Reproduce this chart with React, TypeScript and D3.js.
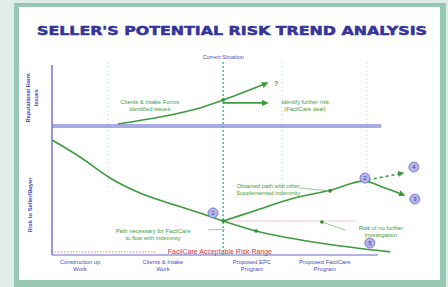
import React, { useEffect, useRef } from 'react'
import * as d3 from 'd3'

type Pt = [number, number]

const title = "SELLER'S POTENTIAL RISK TREND ANALYSIS"
const currentLabel = 'Current Situation'
const categoryLines: string[][] = [
  ['Construction up', 'Work'],
  ['Clients & Intake', 'Work'],
  ['Proposed EPC', 'Program'],
  ['Proposed FacilCare', 'Program'],
]
const categoryX = [8.6, 34, 61.3, 83.7]
const yLabelTop = ['Reputational Harm', 'Issues']
const yLabelBottom = 'Risk to Seller/Buyer'
const acceptableLabel = 'FacilCare Acceptable Risk Range'

const currentX = 52.5
const thresholdY = 66.8
const gridX = [17.2, 70.6, 96.6]

// risk trend paths (x: program progress, y: risk level)
const baseCurve: Pt[] = [[0, 59.6], [8.6, 50.8], [17.8, 39.9], [27, 32.1], [37.7, 25.9], [45.4, 21.8], [52.5, 17.6]]
const riseCurve: Pt[] = [[52.5, 17.6], [62.9, 23.3], [73.3, 29], [85.6, 33.7], [95.7, 38.3], [102.1, 34.7], [108, 31.1]]
const lowCurve: Pt[] = [[52.5, 17.6], [62.6, 12.4], [82.2, 6.2], [103.7, 1.6]]
const dashedCurve: Pt[] = [[96.9, 38.9], [107.7, 42.5]]
const upperCurve: Pt[] = [[20.2, 67.9], [33.1, 71.5], [45.4, 76.2], [52.5, 80.3], [66, 89.1]]
const sideArrow: Pt[] = [[52.5, 78.8], [66, 78.8]]
const dotPoints: Pt[] = [[52.5, 80.3], [85.3, 33.2], [62.6, 12.4], [82.8, 17.1], [52.5, 17.6]]
const leaders: Pt[][] = [
  [[76, 34.7], [85.3, 33.2]],
  [[47.9, 13], [53, 13.4]],
  [[82.8, 17.1], [89.9, 13]],
]
const stageCircles: Array<[number, number, string]> = [
  [49.4, 21.8, '1'],
  [96, 39.9, '2'],
  [111.3, 29, '3'],
  [111, 45.6, '4'],
  [97.5, 6.2, '5'],
]
const notes: Array<{ lines: string[]; x: number; y: number }> = [
  { lines: ['Clients & Intake Forms', 'identified issues'], x: 30, y: 79.3 },
  { lines: ['Identify further risk', '(FacilCare deal)'], x: 77.6, y: 79.3 },
  { lines: ['Obtained path with other', 'Supplemented indemnity'], x: 66.3, y: 35.8 },
  { lines: ['Path necessary for FacilCare', 'to flow with indemnity'], x: 31, y: 12.4 },
  { lines: ['Risk of no further', 'investigation'], x: 100.9, y: 14 },
]

const W = 448
const H = 287
const GREEN = '#3d9b3d'
const BLUE = '#4b4bb4'

const App: React.FC = () => {
  const svgRef = useRef<SVGSVGElement>(null)

  useEffect(() => {
    const svg = d3.select(svgRef.current)
    svg.selectAll('*').remove()

    const x = d3.scaleLinear().domain([0, 100]).range([52, 378])
    const y = d3.scaleLinear().domain([0, 100]).range([255, 62])

    const defs = svg.append('defs')
    defs
      .append('marker')
      .attr('id', 'arr')
      .attr('viewBox', '0 0 10 10')
      .attr('refX', 8)
      .attr('refY', 5)
      .attr('markerWidth', 4)
      .attr('markerHeight', 4)
      .attr('orient', 'auto')
      .append('path')
      .attr('d', 'M0,0L10,5L0,10z')
      .attr('fill', GREEN)

    // frame
    svg.append('rect').attr('width', W).attr('height', H).attr('fill', '#deede7')
    svg.append('rect').attr('x', 14).attr('y', 3).attr('width', 432).attr('height', 290).attr('fill', '#97c8b3')
    svg.append('rect').attr('x', 19).attr('y', 7).attr('width', 421).attr('height', 273).attr('fill', '#ffffff')

    svg
      .append('text')
      .attr('x', 232)
      .attr('y', 35)
      .attr('text-anchor', 'middle')
      .attr('font-family', 'DejaVu Sans')
      .attr('font-weight', 'bold')
      .attr('font-size', 12)
      .attr('textLength', 390)
      .attr('lengthAdjust', 'spacingAndGlyphs')
      .attr('fill', '#34349a')
      .attr('stroke', '#34349a')
      .attr('stroke-width', 0.5)
      .text(title)

    const g = svg.append('g').attr('font-family', 'Liberation Sans, Arial, sans-serif')

    // faint grid
    g.selectAll('line.grid')
      .data(gridX)
      .enter()
      .append('line')
      .attr('x1', (d) => x(d))
      .attr('x2', (d) => x(d))
      .attr('y1', y(100))
      .attr('y2', y(33))
      .attr('stroke', '#cfe6ef')
      .attr('stroke-dasharray', '2,2')

    // pink current-level line
    g.append('line')
      .attr('x1', x(currentX))
      .attr('x2', x(93))
      .attr('y1', y(17.6))
      .attr('y2', y(17.6))
      .attr('stroke', '#f2b8b8')
      .attr('stroke-width', 0.8)

    // threshold band
    g.append('line')
      .attr('x1', x(0))
      .attr('x2', x(101))
      .attr('y1', y(thresholdY))
      .attr('y2', y(thresholdY))
      .attr('stroke', '#a9a9e3')
      .attr('stroke-width', 4)

    // axes
    g.append('line').attr('x1', x(0)).attr('x2', x(0)).attr('y1', y(98.4)).attr('y2', y(0))
      .attr('stroke', '#7676cc').attr('stroke-width', 1.5)
    g.append('line').attr('x1', x(0)).attr('x2', x(100)).attr('y1', y(0)).attr('y2', y(0))
      .attr('stroke', '#9a9ad8').attr('stroke-width', 1.5)

    // acceptable risk line + label
    g.append('line')
      .attr('x1', x(0))
      .attr('x2', x(32))
      .attr('y1', y(1.6))
      .attr('y2', y(1.6))
      .attr('stroke', '#f06060')
      .attr('stroke-width', 0.8)
      .attr('stroke-dasharray', '1.5,1.5')
    g.append('text')
      .attr('x', x(51.5))
      .attr('y', y(1.6))
      .attr('dy', '0.35em')
      .attr('text-anchor', 'middle')
      .attr('font-size', 7)
      .attr('fill', '#e83030')
      .text(acceptableLabel)

    // current situation
    g.append('line')
      .attr('x1', x(currentX))
      .attr('x2', x(currentX))
      .attr('y1', y(100))
      .attr('y2', y(0))
      .attr('stroke', '#44b89e')
      .attr('stroke-width', 1.5)
      .attr('stroke-dasharray', '2,2')
    g.append('text')
      .attr('x', x(currentX))
      .attr('y', 59)
      .attr('text-anchor', 'middle')
      .attr('font-size', 5.5)
      .attr('fill', BLUE)
      .text(currentLabel)

    // category labels
    categoryLines.forEach((lines, i) => {
      lines.forEach((t, j) => {
        g.append('text')
          .attr('x', x(categoryX[i]))
          .attr('y', 264 + j * 7)
          .attr('text-anchor', 'middle')
          .attr('font-size', 5.8)
          .attr('fill', BLUE)
          .text(t)
      })
    })

    // y labels
    yLabelTop.forEach((t, j) => {
      g.append('text')
        .attr('transform', `translate(${30 + j * 8},${y(81.5)}) rotate(-90)`)
        .attr('text-anchor', 'middle')
        .attr('font-size', 5.5)
        .attr('font-weight', 'bold')
        .attr('fill', BLUE)
        .text(t)
    })
    g.append('text')
      .attr('transform', `translate(32,${y(26)}) rotate(-90)`)
      .attr('text-anchor', 'middle')
      .attr('font-size', 5.8)
      .attr('font-weight', 'bold')
      .attr('fill', BLUE)
      .text(yLabelBottom)

    const line = d3
      .line<Pt>()
      .x((d) => x(d[0]))
      .y((d) => y(d[1]))
      .curve(d3.curveMonotoneX)

    const curves: Array<[Pt[], boolean, boolean]> = [
      [baseCurve, false, false],
      [riseCurve, true, false],
      [lowCurve, false, false],
      [upperCurve, true, false],
      [sideArrow, true, false],
      [dashedCurve, true, true],
    ]
    curves.forEach(([pts, arrow, dashed]) => {
      g.append('path')
        .attr('d', line(pts))
        .attr('fill', 'none')
        .attr('stroke', GREEN)
        .attr('stroke-width', 1.6)
        .attr('stroke-dasharray', dashed ? '3,3' : null)
        .attr('marker-end', arrow ? 'url(#arr)' : null)
    })

    leaders.forEach((pts) => {
      g.append('path')
        .attr('d', d3.line()(pts.map((p) => [x(p[0]), y(p[1])] as [number, number])))
        .attr('stroke', '#7cc07c')
        .attr('stroke-width', 0.8)
        .attr('fill', 'none')
    })

    g.selectAll('circle.dot')
      .data(dotPoints)
      .enter()
      .append('circle')
      .attr('cx', (d) => x(d[0]))
      .attr('cy', (d) => y(d[1]))
      .attr('r', 1.8)
      .attr('fill', '#2f8a2f')

    g.append('text')
      .attr('x', x(68.1))
      .attr('y', y(88.6))
      .attr('dy', '0.35em')
      .attr('font-size', 7)
      .attr('font-weight', 'bold')
      .attr('fill', GREEN)
      .text('?')

    notes.forEach((n) => {
      n.lines.forEach((t, j) => {
        g.append('text')
          .attr('x', x(n.x))
          .attr('y', y(n.y) + j * 7)
          .attr('dy', '0.35em')
          .attr('text-anchor', 'middle')
          .attr('font-size', 5.8)
          .attr('fill', GREEN)
          .text(t)
      })
    })

    const circ = g.selectAll('g.stage').data(stageCircles).enter().append('g')
      .attr('transform', (d) => `translate(${x(d[0])},${y(d[1])})`)
    circ.append('circle').attr('r', 5).attr('fill', '#b4b4ea').attr('stroke', '#6a6ac8').attr('stroke-width', 0.8)
    circ.append('text')
      .attr('text-anchor', 'middle')
      .attr('dy', '0.35em')
      .attr('font-size', 6)
      .attr('fill', '#3a3aa0')
      .text((d) => d[2])
  }, [])

  return (
    <svg
      ref={svgRef}
      width={W}
      height={H}
      style={{ position: 'absolute', left: 0, top: 0, display: 'block' }}
    />
  )
}

export default App
